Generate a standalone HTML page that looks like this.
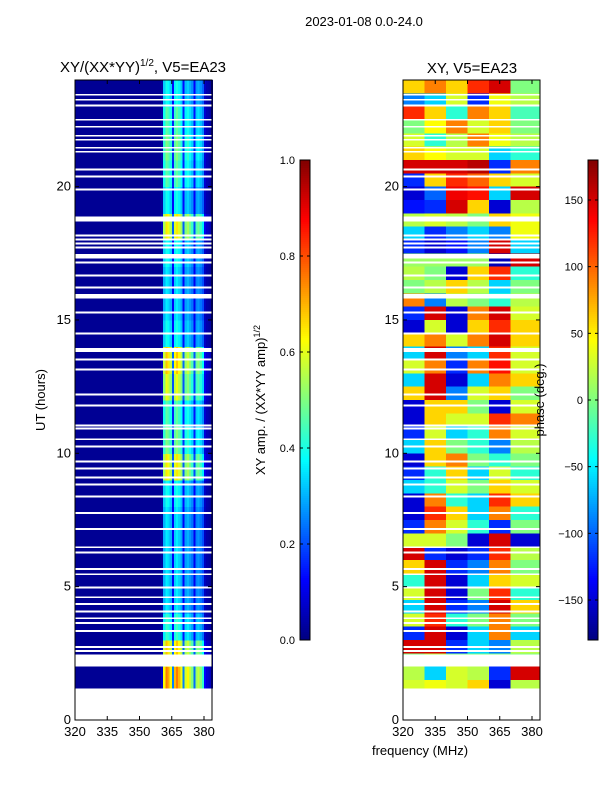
<!DOCTYPE html>
<html><head><meta charset="utf-8"><style>
body{margin:0;background:#fff;width:600px;height:800px;overflow:hidden}
svg text{font-family:"Liberation Sans","DejaVu Sans",sans-serif;fill:#000}
</style></head><body>
<svg id="fig" width="600" height="800" xmlns="http://www.w3.org/2000/svg">
<rect width="600" height="800" fill="#fff"/>
<text x="364" y="26" font-size="13" text-anchor="middle">2023-01-08 0.0-24.0</text>
<text x="143" y="72" font-size="15" text-anchor="middle">XY/(XX*YY)<tspan font-size="10" dy="-6">1/2</tspan><tspan dy="6">, V5=EA23</tspan></text>
<text x="472" y="73" font-size="15" text-anchor="middle">XY, V5=EA23</text>
<g id="ampPlot" shape-rendering="crispEdges"></g>
<g id="phPlot" shape-rendering="crispEdges"></g>
<g id="axes"></g>
<text transform="translate(45,400) rotate(-90)" font-size="13" text-anchor="middle">UT (hours)</text>
<text x="420" y="755" font-size="13" text-anchor="middle">frequency (MHz)</text>
<text transform="translate(265,400) rotate(-90)" font-size="13" text-anchor="middle">XY amp. / (XX*YY amp)<tspan font-size="9" dy="-5">1/2</tspan></text>
<text transform="translate(544,400) rotate(-90)" font-size="13" text-anchor="middle">phase (deg.)</text>
</svg>
<script>
// ---- data ----
const hourTicks=[0,5,10,15,20];
const freqTicks=[320,335,350,365,380];
const ampTicks=[0.0,0.2,0.4,0.6,0.8,1.0];
const phaseTicks=[-150,-100,-50,0,50,100,150];
// amplitude channel profile, 1 MHz channels 320..383
const ampProfile=[0.02,0.02,0.02,0.02,0.02,0.02,0.02,0.02,0.02,0.02,0.02,0.02,0.02,0.02,0.02,0.02,0.02,0.02,0.02,0.02,0.02,0.02,0.02,0.02,0.02,0.02,0.02,0.02,0.02,0.02,0.02,0.02,0.02,0.02,0.02,0.02,0.02,0.02,0.02,0.02,0.03,0.30,0.36,0.34,0.30,0.12,0.33,0.36,0.33,0.29,0.12,0.28,0.30,0.27,0.24,0.11,0.25,0.27,0.24,0.20,0.06,0.04,0.03,0.03];
// hourly amplitude scale factors, hours 0..23
const ampHourFactor=[1,2.1,1.9,1.2,1.0,1.0,1.0,1.0,1.1,1.8,1.4,1.3,1.7,1.9,1.1,1.0,1.0,1.1,1.8,1.1,1.3,1.4,1.3,1.1];
const dataStart=1.2, dataEnd=24;
// phase (deg) half-hour rows from 24 downward, 6 frequency blocks
const phaseBlocks=[320,330,340,350,360,370,383.7];
const phaseRows=[
[60,90,60,120,150,0],[-90,-60,30,-120,40,20],[120,60,-30,90,60,-20],[0,45,90,30,60,0],
[30,-30,20,90,40,20],[60,45,30,30,-60,-30],[150,150,150,160,-120,90],[-120,60,120,100,60,30],
[-150,-100,140,130,-60,150],[-130,-120,150,60,-150,20],[20,30,20,0,60,40],[-60,-120,-90,-60,-90,40],
[-120,-150,-130,-90,150,-60],[10,10,10,10,-160,150],[20,0,-150,60,120,-30],[0,20,60,20,-60,0],
[90,-90,20,0,-30,20],[-120,150,-150,90,150,30],[-150,30,-150,60,120,60],[60,90,30,90,150,60],
[-60,150,-90,-60,120,30],[30,90,-120,90,130,30],[-60,150,-150,-60,90,60],[60,150,-90,30,60,0],
[-150,60,60,0,-150,30],[-150,60,30,30,120,90],[-120,30,-60,-30,90,30],[-60,60,0,-30,-90,20],
[-150,60,90,0,-30,0],[-120,-30,60,-60,30,-30],[-60,-30,30,0,60,30],[-150,90,-30,-60,120,60],
[-150,120,60,-60,90,-30],[-120,90,30,-30,-120,0],[30,30,0,-150,150,-150],[150,-120,-150,-120,120,20],
[60,150,-120,-90,90,0],[-30,150,-150,-60,60,30],[30,150,-150,0,120,-30],[-60,150,-120,-90,150,60],
[30,120,-30,0,90,0],[-120,150,-150,-60,90,-60],[150,150,-120,-60,-90,20],[0,20,0,0,0,0],
[20,-60,30,20,-120,150],[30,40,30,60,-150,20]];
// missing-data rows (hour, duration in hours)
const gapHours=[23.41,23.22,23.0,22.47,22.21,21.87,21.72,21.42,21.27,20.6,20.34,19.85,18.7,18.13,17.98,17.83,17.68,17.3,17.12,16.63,16.18,15.8,15.24,14.46,13.8,13.48,13.11,12.17,11.76,11.01,10.9,10.49,10.22,9.66,9.4,9.06,8.8,8.35,7.72,7.12,6.44,6.25,5.62,5.43,4.94,4.57,4.31,4.04,3.78,3.6,3.3,2.7,2.55,2.0];
const gapDur=[0.07,0.07,0.07,0.07,0.07,0.07,0.07,0.07,0.07,0.07,0.07,0.07,0.17,0.07,0.07,0.07,0.07,0.18,0.07,0.07,0.07,0.18,0.07,0.07,0.15,0.07,0.07,0.07,0.07,0.07,0.07,0.07,0.07,0.07,0.07,0.07,0.07,0.07,0.07,0.07,0.07,0.07,0.07,0.07,0.07,0.07,0.07,0.07,0.07,0.07,0.07,0.07,0.07,0.45];

// ---- helpers ----
const NS='http://www.w3.org/2000/svg';
const Y0=720, PXH=26.67;
const yH=h=>Y0-h*PXH;
const panels=[{x0:75,id:'ampPlot'},{x0:403,id:'phPlot'}];
const xF=(p,f)=>p.x0+(f-320)*2.15;
const AXW=137;
function jet(t){t=Math.max(0,Math.min(1,t));
 const c=x=>Math.round(255*Math.max(0,Math.min(1,x)));
 const r=c(Math.min(4*t-1.5,-4*t+4.5)),g=c(Math.min(4*t-0.5,-4*t+3.5)),b=c(Math.min(4*t+0.5,-4*t+2.5));
 return `rgb(${r},${g},${b})`;}
function mk(tag,attrs,parent){const e=document.createElementNS(NS,tag);for(const k in attrs)e.setAttribute(k,attrs[k]);parent.appendChild(e);return e;}

// amplitude heatmap
const ga=document.getElementById('ampPlot');
for(let h=1;h<24;h++){
 const top=Math.min(h+1,dataEnd), bot=Math.max(h,dataStart);
 for(let c=0;c<ampProfile.length;c++){
  const v=Math.min(1,ampProfile[c]*(c<40?1:ampHourFactor[h]));
  const r=mk('rect',{x:xF(panels[0],320+c),y:yH(top),width:2.6,height:yH(bot)-yH(top)+0.5,fill:jet(v)},ga);
  
  
 }
}
// phase heatmap
const gp=document.getElementById('phPlot');
phaseRows.forEach((row,i)=>{
 const top=24-i*0.5, bot=Math.max(top-0.5,dataStart);
 row.forEach((v,j)=>{
  const x1=xF(panels[1],phaseBlocks[j]), x2=xF(panels[1],phaseBlocks[j+1]);
  const r=mk('rect',{x:x1,y:yH(top),width:x2-x1+0.5,height:yH(bot)-yH(top)+0.5,fill:jet((v+180)/360)},gp);
  
  
 });
});
// gaps
panels.forEach(p=>{
 const g=document.getElementById(p.id);
 gapHours.forEach((h,i)=>{
  const r=mk('rect',{x:p.x0,y:yH(h+gapDur[i]),width:AXW,height:gapDur[i]*PXH,fill:'#fff'},g);
  
  
 });
});
// axes
const ax=document.getElementById('axes');
panels.forEach((p,pi)=>{
 const f=mk('rect',{x:p.x0,y:80,width:AXW,height:640,fill:'none',stroke:'#000','stroke-width':1},ax);
 
 
 hourTicks.forEach(h=>{
  mk('line',{x1:p.x0,x2:p.x0+4,y1:yH(h),y2:yH(h),stroke:'#000'},ax);
  mk('line',{x1:p.x0+AXW,x2:p.x0+AXW-4,y1:yH(h),y2:yH(h),stroke:'#000'},ax);
  const t=mk('text',{x:p.x0-4,y:yH(h)+4,'font-size':13,'text-anchor':'end'},ax);t.textContent=h;
  
  
 });
 freqTicks.forEach(fq=>{
  const x=xF(p,fq);
  mk('line',{x1:x,x2:x,y1:720,y2:716,stroke:'#000'},ax);
  mk('line',{x1:x,x2:x,y1:80,y2:84,stroke:'#000'},ax);
  const t=mk('text',{x:x,y:736,'font-size':13,'text-anchor':'middle'},ax);t.textContent=fq;
  
  
 });
});
// colorbars
function colorbar(x,ticks,toT,name){
 const g=mk('g',{},ax);
 
 
 for(let i=0;i<240;i++){mk('rect',{x:x,y:160+i*2,width:10,height:2.2,fill:jet(1-(i+0.5)/240)},g);}
 mk('rect',{x:x,y:160,width:10,height:480,fill:'none',stroke:'#000'},g);
 ticks.forEach(v=>{const y=640-toT(v)*480;
  mk('line',{x1:x,x2:x+3,y1:y,y2:y,stroke:'#000'},g);mk('line',{x1:x+10,x2:x+7,y1:y,y2:y,stroke:'#000'},g);
  const t=mk('text',{x:x-5,y:y+4,'font-size':11,'text-anchor':'end'},g);t.textContent=(name==='amp-colorbar'?v.toFixed(1):(v<0?'\u2212'+(-v):v));
  
  
 });
}
colorbar(300,ampTicks,v=>v,'amp-colorbar');
colorbar(588,phaseTicks,v=>(v+180)/360,'phase-colorbar');
</script>
</body></html>
